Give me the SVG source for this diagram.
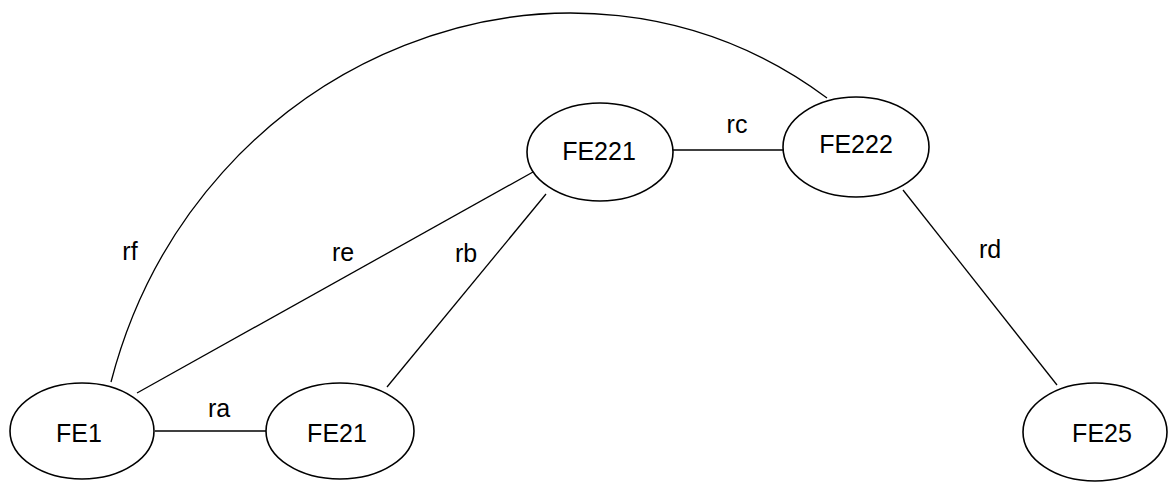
<svg xmlns="http://www.w3.org/2000/svg" width="1169" height="483" viewBox="0 0 1169 483">
<style>
.node ellipse{fill:#fff;stroke:#000;stroke-width:1.6}
.node text,.lbl{font-family:"Liberation Sans",Arial,sans-serif;font-size:25px;fill:#000;text-anchor:middle}
.edges line,.edges path{stroke:#000;stroke-width:1.3;fill:none}
</style>
<rect width="1169" height="483" fill="#fff"/>
<g id="connectors" class="edges">
<path d="M111,382 C196,54 570,-93 827,98"/>
<line x1="137" y1="393" x2="533" y2="172"/>
<line x1="155" y1="431" x2="266" y2="431"/>
<line x1="387" y1="387" x2="546" y2="194"/>
<line x1="672" y1="150" x2="783" y2="150"/>
<line x1="903" y1="190" x2="1057" y2="385"/>
<text class="lbl" x="130" y="260">rf</text>
<text class="lbl" x="343" y="261">re</text>
<text class="lbl" x="219" y="417">ra</text>
<text class="lbl" x="466" y="262">rb</text>
<text class="lbl" x="737" y="133">rc</text>
<text class="lbl" x="990" y="258">rd</text>
</g>
<g id="FE1" class="node"><ellipse cx="82" cy="431" rx="72" ry="48"/><text x="79" y="442">FE1</text></g>
<g id="FE21" class="node"><ellipse cx="340" cy="431" rx="74" ry="48"/><text x="337" y="442">FE21</text></g>
<g id="FE221" class="node"><ellipse cx="600" cy="152" rx="73" ry="49"/><text x="599" y="160">FE221</text></g>
<g id="FE222" class="node"><ellipse cx="856" cy="147" rx="73" ry="50"/><text x="856" y="153">FE222</text></g>
<g id="FE25" class="node"><ellipse cx="1095" cy="432" rx="72" ry="49"/><text x="1102" y="442">FE25</text></g>
</svg>
